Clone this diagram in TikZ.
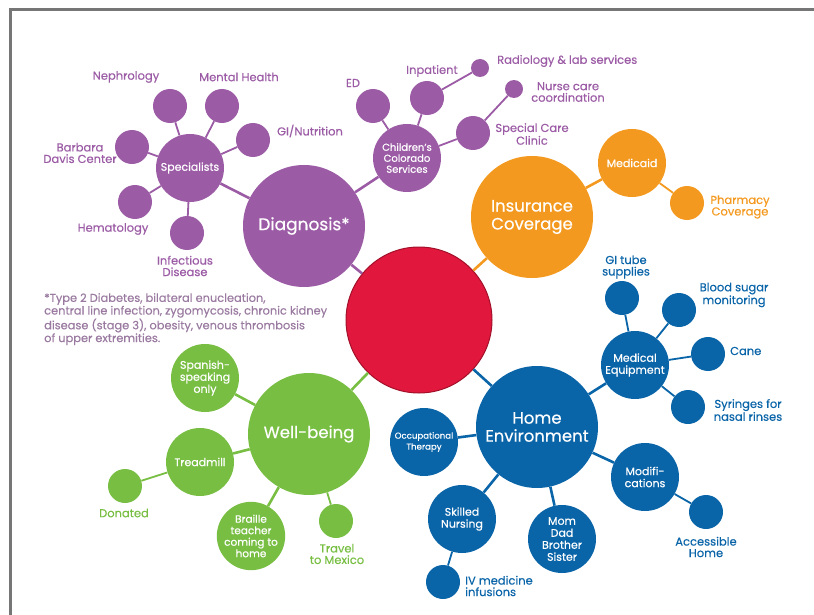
\documentclass[tikz,border=0pt]{standalone}
\usepackage{fontspec}
\setmainfont{Poppins}[FakeBold=0.35]
\usepackage{xcolor}
\usepackage{tikz}
\usetikzlibrary{positioning}

\definecolor{diagpurple}{HTML}{9B5BA5}
\definecolor{insorange}{HTML}{F4991F}
\definecolor{homeblue}{HTML}{0A64A8}
\definecolor{wellgreen}{HTML}{78BE43}
\definecolor{corered}{HTML}{E2173D}
\definecolor{coreedge}{HTML}{A3102A}
\definecolor{framegray}{HTML}{767676}
\definecolor{notepurple}{HTML}{9A7AA0}

\begin{document}
\begin{tikzpicture}[
                x=1pt, y=-1pt,
                hub/.style={circle, inner sep=0pt, minimum size=122, text=white, align=center, font=\fontsize{16.5}{18}\selectfont},
                branch/.style={circle, inner sep=0pt, minimum size=68, text=white, align=center, font=\fontsize{11}{12}\selectfont},
                leaf/.style={circle, inner sep=0pt, minimum size=34},
                dot/.style={circle, inner sep=0pt, minimum size=18},
                tag/.style={align=center, inner sep=1pt, font=\fontsize{11.5}{11.5}\selectfont},
                link/.style={line width=2.6pt},
                twig/.style={line width=1.8pt}
                ]
                \useasboundingbox (0,0) rectangle (814,615);
                % Cadre
                \draw[framegray, line width=3pt] (814,10) -- (10,10) -- (10,615);

                % Centre
                \node[circle, inner sep=0pt, minimum size=146, fill=corered, draw=coreedge, line width=1pt] (core) at (419,320) {};

                % Diagnostic
                \node[hub, fill=diagpurple, font=\fontsize{17}{18}\selectfont] (diag) at (304,226) {Diagnosis*};
                \node[branch, fill=diagpurple] (spec) at (190,168) {Specialists};
                \node[branch, fill=diagpurple, font=\fontsize{10}{11}\selectfont] (child) at (407,158) {Children's\\Colorado\\Services};
                \node[leaf, fill=diagpurple] (neph) at (170,106) {};
                \node[leaf, fill=diagpurple] (mental) at (222,106) {};
                \node[leaf, fill=diagpurple] (ginut) at (253,140) {};
                \node[leaf, fill=diagpurple] (barb) at (132,147) {};
                \node[leaf, fill=diagpurple] (hema) at (135,202) {};
                \node[leaf, fill=diagpurple] (infect) at (187,233) {};
                \node[leaf, fill=diagpurple] (ed) at (373,106) {};
                \node[leaf, fill=diagpurple] (inpat) at (427,98) {};
                \node[leaf, fill=diagpurple] (clinic) at (473,133) {};
                \node[dot, fill=diagpurple] (radio) at (480,68) {};
                \node[dot, fill=diagpurple] (nurse) at (514,89) {};

                \node[tag, text=diagpurple] (neph_lbl) at (126,77) {Nephrology};
                \node[tag, text=diagpurple] (mental_lbl) at (239,77) {Mental Health};
                \node[tag, text=diagpurple] (ginut_lbl) at (310,131) {GI/Nutrition};
                \node[tag, text=diagpurple] (barb_lbl) at (80,153) {Barbara\\Davis Center};
                \node[tag, text=diagpurple] (hema_lbl) at (113,229) {Hematology};
                \node[tag, text=diagpurple] (infect_lbl) at (185,266) {Infectious\\Disease};
                \node[tag, text=diagpurple] (ed_lbl) at (353,83) {ED};
                \node[tag, text=diagpurple] (inpat_lbl) at (432,71) {Inpatient};
                \node[tag, text=diagpurple, anchor=west] (radio_lbl) at (496,61) {Radiology \& lab services};
                \node[tag, text=diagpurple] (nurse_lbl) at (568,92) {Nurse care\\coordination};
                \node[tag, text=diagpurple] (clinic_lbl) at (532,134) {Special Care\\Clinic};

                % Note
                \node[anchor=north west, align=left, inner sep=0pt, text=notepurple, font=\fontsize{11.4}{11}\selectfont] (note) at (44,293) {*Type 2 Diabetes, bilateral enucleation,\\central line infection, zygomycosis, chronic kidney\\disease (stage 3), obesity, venous thrombosis\\of upper extremities.};

                \draw[link, diagpurple] (core) -- (diag);
                \draw[link, diagpurple] (diag) -- (spec);
                \draw[link, diagpurple] (diag) -- (child);
                \draw[twig, diagpurple] (spec) -- (neph);
                \draw[twig, diagpurple] (spec) -- (mental);
                \draw[twig, diagpurple] (spec) -- (ginut);
                \draw[twig, diagpurple] (spec) -- (barb);
                \draw[twig, diagpurple] (spec) -- (hema);
                \draw[twig, diagpurple] (spec) -- (infect);
                \draw[twig, diagpurple] (child) -- (ed);
                \draw[twig, diagpurple] (child) -- (inpat);
                \draw[twig, diagpurple] (child) -- (clinic);
                \draw[twig, diagpurple] (inpat) -- (radio);
                \draw[twig, diagpurple] (clinic) -- (nurse);

                % Assurance
                \node[hub, fill=insorange] (ins) at (532,217) {Insurance\\Coverage};
                \node[branch, fill=insorange] (medicaid) at (632,163) {Medicaid};
                \node[leaf, fill=insorange] (pharma) at (687,203) {};
                \node[tag, text=insorange] (pharma_lbl) at (740,207) {Pharmacy\\Coverage};

                \draw[link, insorange] (core) -- (ins);
                \draw[link, insorange] (ins) -- (medicaid);
                \draw[twig, insorange] (medicaid) -- (pharma);

                % Maison
                \node[hub, fill=homeblue] (home) at (537,427) {Home\\Environment};
                \node[branch, fill=homeblue] (equip) at (635,365) {Medical\\Equipment};
                \node[branch, fill=homeblue, font=\fontsize{8.6}{11}\selectfont] (occup) at (424,442) {Occupational\\Therapy};
                \node[branch, fill=homeblue] (modif) at (645,477) {Modifi-\\cations};
                \node[branch, fill=homeblue] (skilled) at (462,519) {Skilled\\Nursing};
                \node[branch, fill=homeblue] (family) at (562,539) {Mom\\Dad\\Brother\\Sister};
                \node[leaf, fill=homeblue] (gitube) at (622,298) {};
                \node[leaf, fill=homeblue] (sugar) at (679,310) {};
                \node[leaf, fill=homeblue] (cane) at (708,354) {};
                \node[leaf, fill=homeblue] (syringe) at (688,407) {};
                \node[leaf, fill=homeblue] (access) at (706,512) {};
                \node[leaf, fill=homeblue] (ivmed) at (443,582) {};

                \node[tag, text=homeblue] (gitube_lbl) at (626,267) {GI tube\\supplies};
                \node[tag, text=homeblue] (sugar_lbl) at (734,295) {Blood sugar\\monitoring};
                \node[tag, text=homeblue, anchor=west] (cane_lbl) at (729,351) {Cane};
                \node[tag, text=homeblue] (syringe_lbl) at (748,410) {Syringes for\\nasal rinses};
                \node[tag, text=homeblue] (access_lbl) at (706,547) {Accessible\\Home};
                \node[tag, text=homeblue, align=left, anchor=west] (ivmed_lbl) at (464,586) {IV medicine\\infusions};

                \draw[link, homeblue] (core) -- (home);
                \draw[link, homeblue] (home) -- (equip);
                \draw[link, homeblue] (home) -- (occup);
                \draw[link, homeblue] (home) -- (modif);
                \draw[link, homeblue] (home) -- (skilled);
                \draw[link, homeblue] (home) -- (family);
                \draw[twig, homeblue] (equip) -- (gitube);
                \draw[twig, homeblue] (equip) -- (sugar);
                \draw[twig, homeblue] (equip) -- (cane);
                \draw[twig, homeblue] (equip) -- (syringe);
                \draw[twig, homeblue] (modif) -- (access);
                \draw[twig, homeblue] (skilled) -- (ivmed);

                % Bien-etre
                \node[hub, fill=wellgreen] (well) at (309,434) {Well-being};
                \node[branch, fill=wellgreen] (spanish) at (205,378) {Spanish-\\speaking\\only};
                \node[branch, fill=wellgreen] (tread) at (200,462) {Treadmill};
                \node[branch, fill=wellgreen, font=\fontsize{10.5}{11.5}\selectfont] (braille) at (251,536) {Braille\\teacher\\coming to\\home};
                \node[leaf, fill=wellgreen] (donated) at (125,486) {};
                \node[leaf, fill=wellgreen] (travel) at (336,521) {};

                \node[tag, text=wellgreen] (donated_lbl) at (124,513) {Donated};
                \node[tag, text=wellgreen] (travel_lbl) at (337,554) {Travel\\to Mexico};

                \draw[link, wellgreen] (core) -- (well);
                \draw[link, wellgreen] (well) -- (spanish);
                \draw[link, wellgreen] (well) -- (tread);
                \draw[link, wellgreen] (well) -- (braille);
                \draw[twig, wellgreen] (well) -- (travel);
                \draw[twig, wellgreen] (tread) -- (donated);

\end{tikzpicture}
\end{document}
